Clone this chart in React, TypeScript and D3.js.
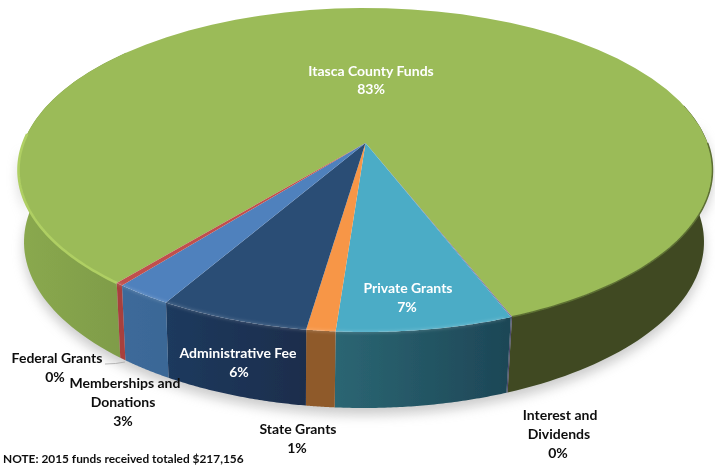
import React from "react";
import * as d3 from "d3";

const categories = ["Itasca County Funds", "Interest and Dividends", "Private Grants", "State Grants", "Administrative Fee", "Memberships and Donations", "Federal Grants"];
const shares = [83.2, 0.05, 7.0, 1.15, 6.0, 2.3, 0.3];
const topColors = ["#9bbb59", "#7d6ba0", "#4bacc6", "#f79646", "#2c4d75", "#4f81bd", "#c0504d"];
const wallColors = ["#7f9d48", "#4b4a6b", "#265a68", "#8f5a2a", "#1d3557", "#3d6a9a", "#a8403e"];

type Lbl = { lines: string[]; xs: number[]; ys: number[]; fill: string };
const labels: Lbl[] = [
  { lines: ["Itasca County Funds", "83%"], xs: [371, 371], ys: [76, 94], fill: "#fff" },
  { lines: ["Private Grants", "7%"], xs: [408, 407], ys: [293, 312], fill: "#fff" },
  { lines: ["Administrative Fee", "6%"], xs: [238, 239], ys: [358, 377], fill: "#fff" },
  { lines: ["Federal Grants", "0%"], xs: [57, 55], ys: [363, 382], fill: "#111" },
  { lines: ["Memberships and", "Donations", "3%"], xs: [125, 123, 123], ys: [388, 407, 426], fill: "#111" },
  { lines: ["State Grants", "1%"], xs: [298, 297], ys: [434, 453], fill: "#111" },
  { lines: ["Interest and", "Dividends", "0%"], xs: [560, 559, 558], ys: [420, 439, 458], fill: "#111" },
];
const note = "NOTE: 2015 funds received totaled $217,156";

const topRim = { cx: 365.5, cy: 170, rx: 347, ry: 162, c: -0.167 };
const baseRim = { cx: 364, cy: 242, rx: 340, ry: 166, c: -0.167 };
type Rim = typeof topRim;

// projective view of a circle: clock angle -> point on the perspective ellipse
const project = (rim: Rim, a: number, r = 1): [number, number] => {
  const u = r * Math.sin(a), v = -r * Math.cos(a);
  const d = 1 + rim.c * v;
  const X = (u * Math.sqrt(1 - rim.c * rim.c)) / d;
  const Y = (v + rim.c) / d;
  return [rim.cx + rim.rx * X, rim.cy + rim.ry * Y];
};

const deg = Math.PI / 180;
const endOfItasca = 158.8 * deg;
const itascaSpan = (shares[0] / d3.sum(shares)) * 2 * Math.PI;
const pie = d3.pie<number>().sort(null).startAngle(endOfItasca - itascaSpan).endAngle(endOfItasca - itascaSpan + 2 * Math.PI);
const arcs = pie(shares);
const line = d3.line<[number, number]>();

const samples = (a0: number, a1: number) => d3.range(0, 61).map((i) => a0 + ((a1 - a0) * i) / 60);
const rimPts = (rim: Rim, a0: number, a1: number) => samples(a0, a1).map((a) => project(rim, a));
const wallPath = (a0: number, a1: number) =>
  line([...rimPts(topRim, a0, a1), ...rimPts(baseRim, a0, a1).reverse()]) + "Z";
const wedgePath = (a0: number, a1: number) =>
  line([project(topRim, 0, 0), ...rimPts(topRim, a0, a1)]) + "Z";

const wallGrad: Record<number, [string, string]> = {
  2: ["#2b6673", "#1d4656"],
  4: ["#1f3a5e", "#1a2d4c"],
  5: ["#3d6a9a", "#3a6796"],
};

export default function App() {
  const g = arcs[0];
  const leftEnd = g.startAngle;
  const rightEnd = g.endAngle;
  const front = arcs.slice(1);
  const frontEnd = front[front.length - 1].endAngle;
  const txt = { fontFamily: "Lato, Carlito, sans-serif", fontWeight: 700, fontSize: 14 };
  return (
    <svg width={715} height={466} style={{ position: "absolute", left: 0, top: 0, background: "#fff" }}>
      <defs>
        <filter id="shadow" x="-10%" y="-10%" width="120%" height="130%"><feGaussianBlur stdDeviation="6" /></filter>
        <filter id="soft" x="-10%" y="-10%" width="120%" height="120%"><feGaussianBlur stdDeviation="0.6" /></filter>
        <filter id="glow" x="-10%" y="-10%" width="120%" height="120%"><feGaussianBlur stdDeviation="1.4" /></filter>
        <filter id="txt"><feGaussianBlur stdDeviation="0.3" /></filter>
        <linearGradient id="wallLeft" x1="0" x2="1" y1="0" y2="0">
          <stop offset="0" stopColor="#8aa94e" /><stop offset="1" stopColor="#7e9b49" />
        </linearGradient>
        {Object.entries(wallGrad).map(([k, [a, b]]) => (
          <linearGradient key={k} id={`wall${k}`} x1="0" x2="1" y1="0" y2="0">
            <stop offset="0" stopColor={a} /><stop offset="1" stopColor={b} />
          </linearGradient>
        ))}
      </defs>

      <path
        d={wallPath(0.45 * Math.PI, 1.5 * Math.PI)}
        fill="#999" opacity={0.5} filter="url(#shadow)" transform="translate(0,7)"
      />

      <g filter="url(#soft)">
        <path d={wallPath(leftEnd, leftEnd + 0.5 * Math.PI)} fill="url(#wallLeft)" />
        <path d={wallPath(0.42 * Math.PI, rightEnd)} fill="#3f4a22" />
        {front.map((d) => (
          <path
            key={d.index}
            d={wallPath(d.startAngle, d.endAngle)}
            fill={wallGrad[d.index] ? `url(#wall${d.index})` : wallColors[d.index]}
          />
        ))}
        {arcs.map((d) => (
          <path key={d.index} d={wedgePath(d.startAngle, d.endAngle)} fill={topColors[d.index]} />
        ))}
        <path
          d={line(rimPts(topRim, leftEnd, leftEnd + 0.3 * Math.PI)) ?? ""}
          fill="none" stroke="#afcf63" strokeWidth={2.6}
        />
        <path
          d={line(rimPts(topRim, 0.5 * Math.PI, rightEnd)) ?? ""}
          fill="none" stroke="#5d6f33" strokeWidth={1.5}
        />
      </g>
      <path
        d={line(rimPts(topRim, rightEnd + 0.02, frontEnd)) ?? ""}
        fill="none" stroke="#fff" strokeOpacity={0.2} strokeWidth={2} filter="url(#glow)"
      />

      <path d="M105,364 Q116,364 125,362" fill="none" stroke="#a6a6a6" strokeWidth={0.8} />

      <g {...txt} textAnchor="middle" filter="url(#txt)">
        {labels.map((l) =>
          l.lines.map((t, i) => (
            <text key={t + i} x={l.xs[i]} y={l.ys[i]} fill={l.fill}>{t}</text>
          ))
        )}
        <text x={3} y={463} textAnchor="start" fill="#111" fontSize={11.9}>{note}</text>
      </g>
    </svg>
  );
}
